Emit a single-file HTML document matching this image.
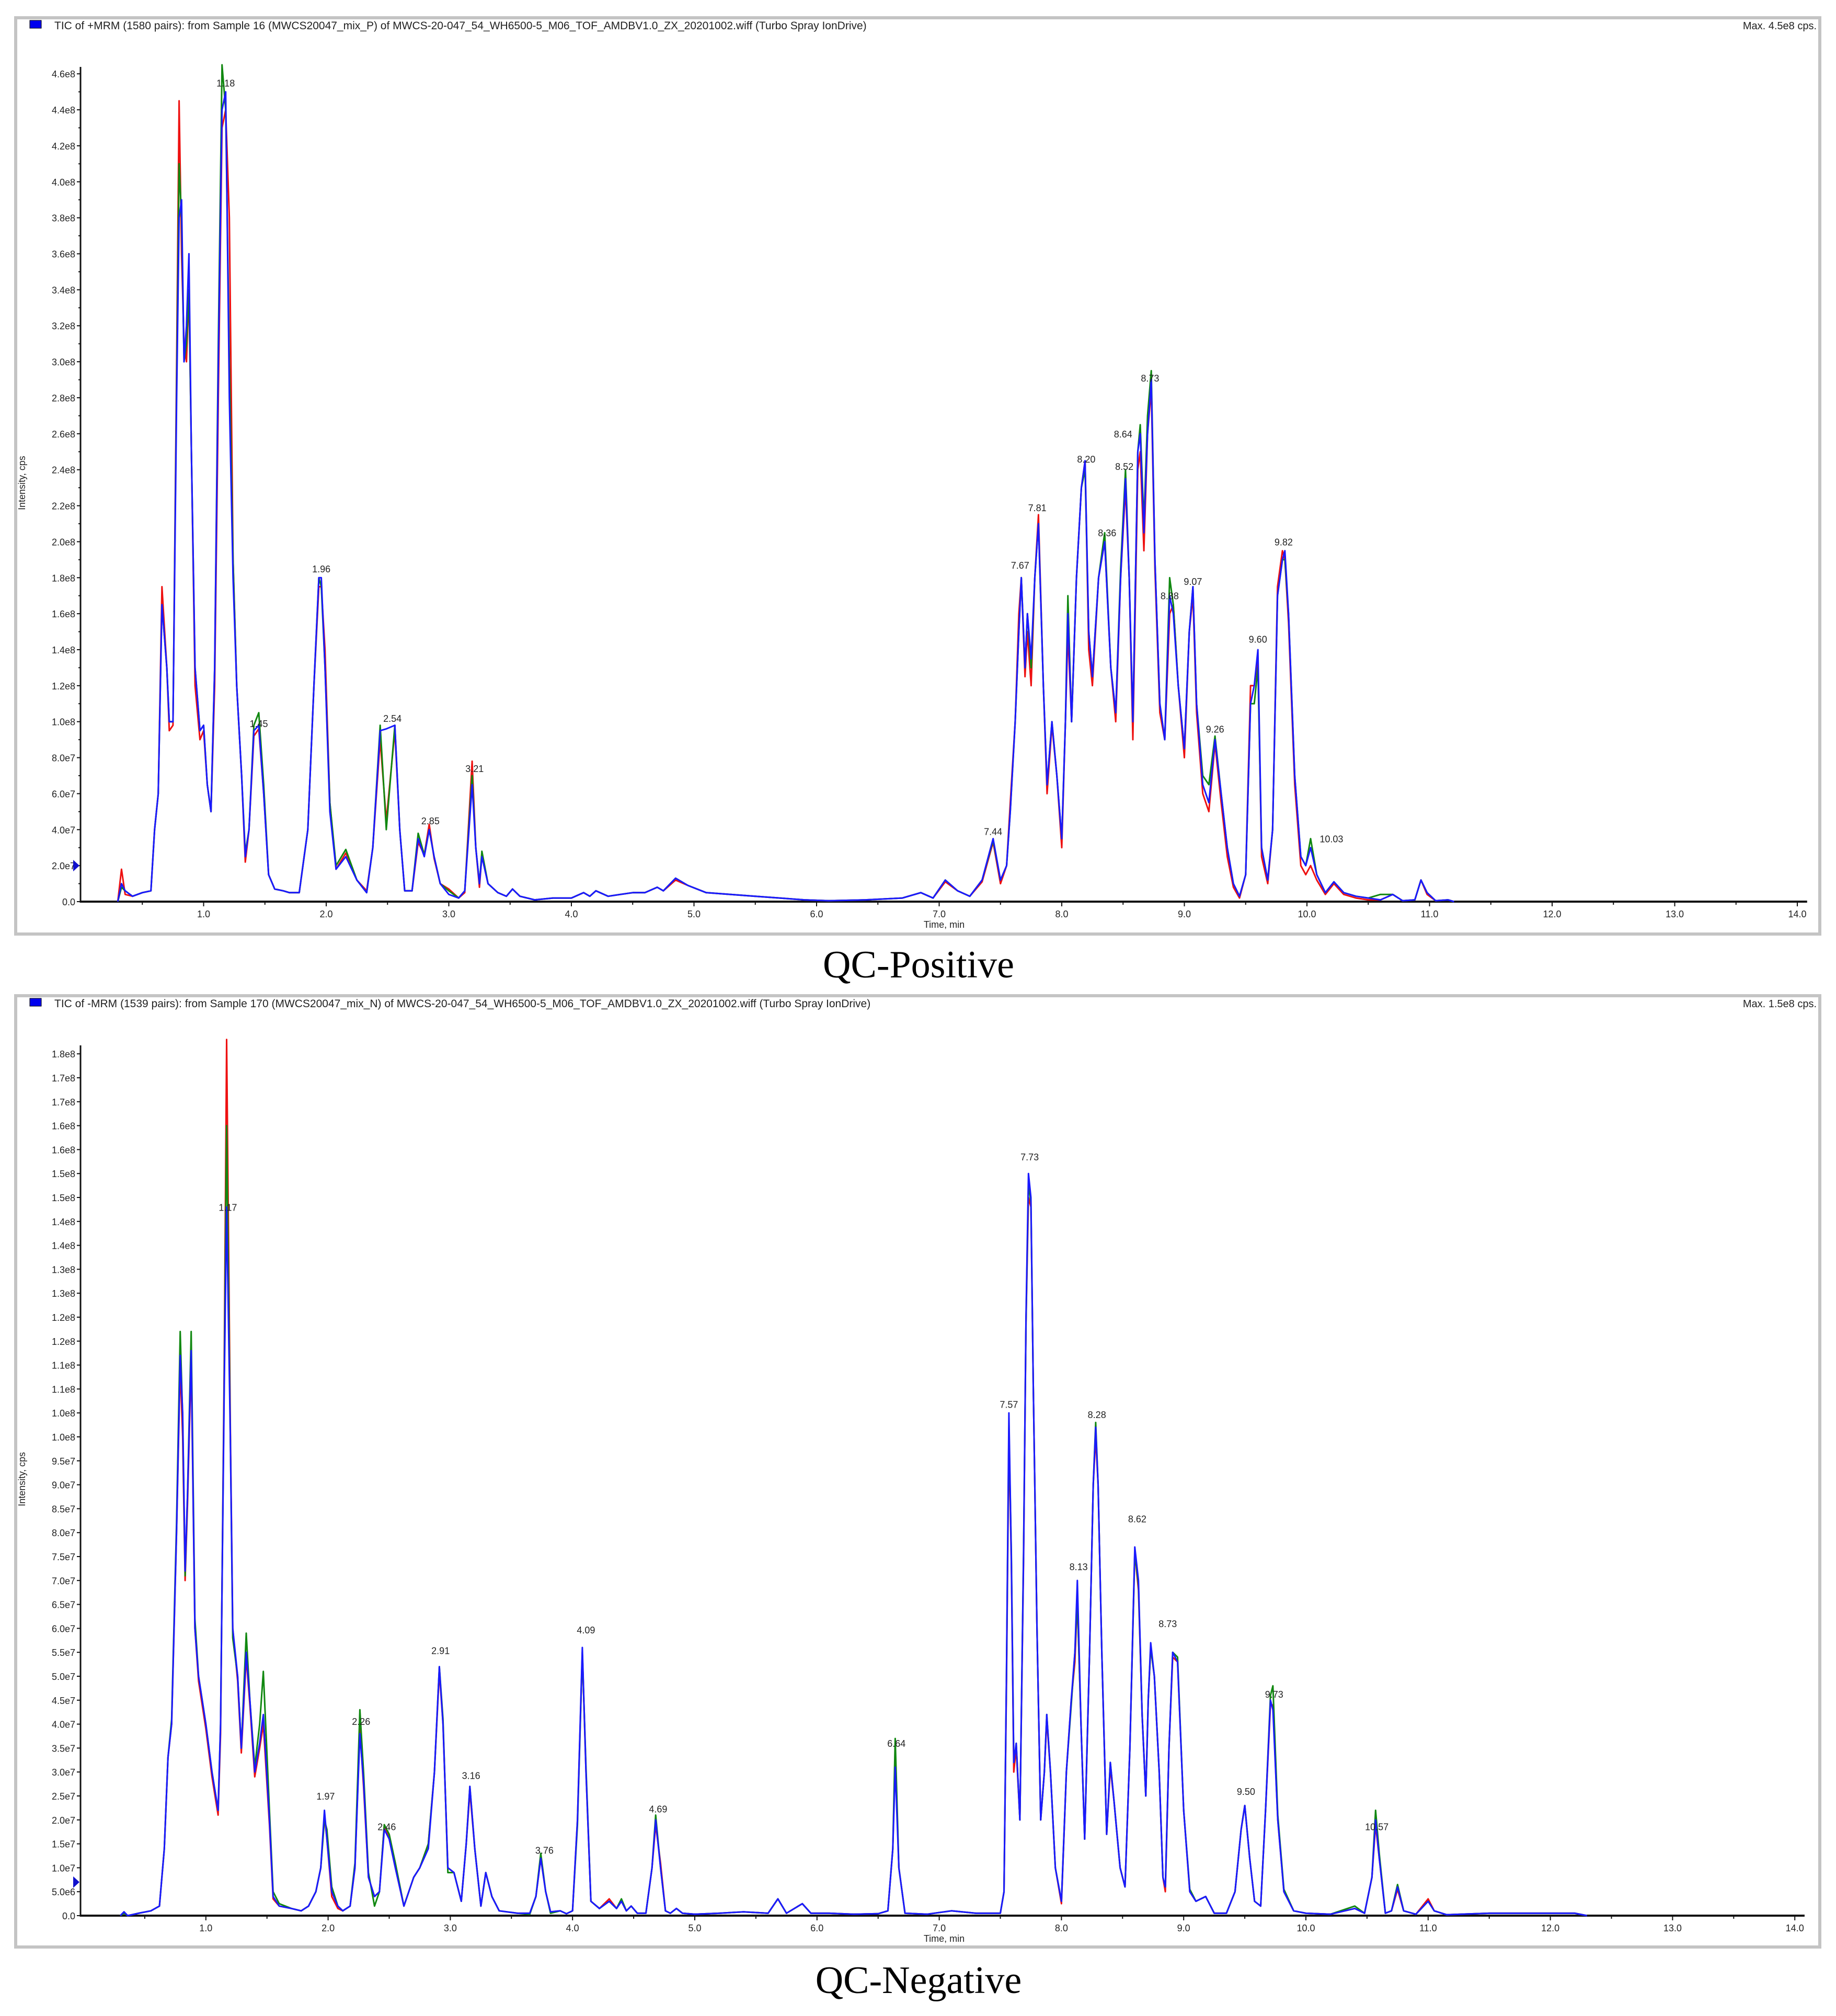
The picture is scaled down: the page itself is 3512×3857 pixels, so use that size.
<!DOCTYPE html>
<html><head><meta charset="utf-8"><title>QC TIC chromatograms</title>
<style>
html,body{margin:0;padding:0;background:#fff;}
svg{display:block;}
text{font-family:"Liberation Sans",Arial,sans-serif;fill:#222;}
.cap{font-family:"Liberation Serif",serif;fill:#000;}
</style></head>
<body>
<svg id="fig" xmlns="http://www.w3.org/2000/svg" width="3512" height="3857" viewBox="0 0 3512 3857">
<rect x="0" y="0" width="3512" height="3857" fill="#fff"/>
<g id="pos"></g>
<g id="neg"></g>
<text class="cap" x="1757" y="1870" font-size="74" text-anchor="middle">QC-Positive</text>
<text class="cap" x="1757" y="3813" font-size="74" text-anchor="middle">QC-Negative</text>
</svg>
<script>
// ===== QC-Positive data (intensity in units of 1e7 cps) =====
const posTimes = [0.30,0.33,0.36,0.42,0.50,0.57,0.60,0.63,0.66,0.70,0.72,0.75,0.78,0.80,0.82,0.84,0.86,0.88,0.90,0.93,0.97,1.00,1.03,1.06,1.09,1.12,1.15,1.18,1.21,1.24,1.27,1.31,1.34,1.37,1.41,1.45,1.49,1.53,1.58,1.65,1.70,1.78,1.85,1.90,1.94,1.96,1.99,2.03,2.08,2.16,2.25,2.33,2.38,2.44,2.49,2.56,2.60,2.64,2.70,2.75,2.80,2.84,2.88,2.93,3.00,3.08,3.13,3.19,3.22,3.25,3.27,3.32,3.40,3.47,3.52,3.58,3.70,3.85,4.00,4.10,4.15,4.20,4.30,4.40,4.50,4.60,4.70,4.75,4.85,4.95,5.10,5.30,5.50,5.70,5.90,6.10,6.40,6.70,6.85,6.95,7.05,7.15,7.25,7.35,7.44,7.50,7.55,7.58,7.62,7.65,7.67,7.70,7.72,7.75,7.78,7.81,7.85,7.88,7.92,7.96,8.00,8.03,8.05,8.08,8.12,8.16,8.19,8.22,8.25,8.30,8.35,8.40,8.44,8.48,8.52,8.55,8.58,8.62,8.64,8.67,8.70,8.73,8.76,8.80,8.84,8.88,8.91,8.95,9.00,9.04,9.07,9.10,9.15,9.20,9.25,9.30,9.35,9.40,9.45,9.50,9.54,9.57,9.60,9.63,9.68,9.72,9.76,9.80,9.82,9.85,9.90,9.95,9.99,10.03,10.08,10.15,10.22,10.30,10.40,10.50,10.60,10.70,10.78,10.88,10.93,10.98,11.05,11.15,11.20];
const posBlue = [0,1.0,0.6,0.3,0.5,0.6,4,6,16.5,13,10,10,28,38,39,30,32,36,25,13,9.5,9.8,6.5,5,13,30,44,45,28,18,12,7,2.5,4,9.5,9.8,6,1.5,0.7,0.6,0.5,0.5,4,12,18,18,13,5,1.8,2.5,1.2,0.5,3,9.5,9.6,9.8,4,0.6,0.6,3.5,2.5,4.0,2.5,1.0,0.4,0.2,0.6,6.5,3.0,1.0,2.5,1.0,0.5,0.3,0.7,0.3,0.1,0.2,0.2,0.5,0.3,0.6,0.3,0.4,0.5,0.5,0.8,0.6,1.3,0.9,0.5,0.4,0.3,0.2,0.1,0.05,0.1,0.2,0.5,0.2,1.2,0.6,0.3,1.2,3.5,1.2,2,5,10,15,18,13,16,13.5,18,21,12,6.5,10,7,3.5,10,16,10,18,23,24.5,15,12.5,18,20,13,10.5,18,23.5,18,10,25,26,20.5,26,29,19,11,9,17,16,12,8.5,15,17.5,11,6.5,5.5,9,6,3,1,0.3,1.5,11,12,14,3,1.2,4,17,19,19.5,16,7,2.5,2,3,1.5,0.5,1.1,0.5,0.3,0.2,0.1,0.4,0.05,0.1,1.2,0.5,0.05,0.1,0];
const posRed  = [0,1.8,0.4,0.3,0.5,0.6,4,6,17.5,13,9.5,9.8,30,44.5,36,31,30,34,25,12,9.0,9.5,6.5,5,12,28,43,44,38,19,12,7,2.2,4,9.2,9.6,6,1.5,0.7,0.6,0.5,0.5,4,12,17.5,17.5,14,5.5,1.8,2.7,1.2,0.6,3,9,4.5,9.5,4,0.6,0.6,3.3,2.6,4.3,2.4,1.0,0.7,0.2,0.5,7.8,3.0,0.8,2.6,1.0,0.5,0.3,0.7,0.3,0.1,0.2,0.2,0.5,0.3,0.6,0.3,0.4,0.5,0.5,0.8,0.6,1.2,0.9,0.5,0.4,0.3,0.2,0.1,0.05,0.1,0.2,0.5,0.2,1.1,0.6,0.3,1.1,3.3,1.0,2,5.5,10,16,18,12.5,15,12,18,21.5,12,6,9.8,7,3,10,15,10,18,23,24.5,14,12,18,20,13,10,18,23,18,9,24,25,19.5,26,28.5,18.5,10.5,9,16,16.5,12,8,15,17,10.5,6,5,8.8,5.5,2.5,0.8,0.2,1.5,12,12,13.5,2.5,1,4,17.5,19.5,19,15.5,6.5,2,1.5,2,1.2,0.4,1.0,0.4,0.2,0.1,0.1,0.4,0.05,0.1,1.2,0.4,0.05,0.1,0];
const posGreen= [0,0.8,0.6,0.3,0.5,0.6,4,6,16.5,13,10,10,29,41,38,30,31,34,25,13,9.5,9.8,6.5,5,13,31,46.5,44,30,19,12,7,2.7,4,9.8,10.5,6.5,1.5,0.7,0.6,0.5,0.5,4,12,18,17.5,13,5.5,2.0,2.9,1.2,0.5,3,9.8,4,9.8,4,0.6,0.6,3.8,2.6,4.0,2.5,1.0,0.6,0.2,0.6,7.0,3.0,1.0,2.8,1.0,0.5,0.3,0.7,0.3,0.1,0.2,0.2,0.5,0.3,0.6,0.3,0.4,0.5,0.5,0.8,0.6,1.3,0.9,0.5,0.4,0.3,0.2,0.1,0.05,0.1,0.2,0.5,0.2,1.2,0.6,0.3,1.2,3.4,1.2,2,5,10,15,18,13,16,13,18,21,12,6.5,10,7,3.5,10,17,10,18,23,24,15,12.5,18,20.5,13,10.5,18.5,24,18,10,25,26.5,21,27,29.5,19,11,9,18,16.5,12,8.5,15,17.5,11,7,6.5,9.2,6,3,1,0.3,1.5,11,11,13,3,1.2,4,17,19,19,16,7,2.5,2,3.5,1.5,0.5,1.1,0.5,0.3,0.2,0.4,0.4,0.05,0.1,1.2,0.5,0.05,0.1,0];
const posLabels = ["1.18","1.96","1.45","2.54","3.21","2.85","7.44","7.67","7.81","8.20","8.36","8.52","8.64","8.73","8.88","9.07","9.26","9.60","9.82","10.03"];
const posLabelT = [1.18,1.96,1.45,2.54,3.21,2.85,7.44,7.66,7.80,8.20,8.37,8.51,8.50,8.72,8.88,9.07,9.25,9.60,9.81,10.20];
const posLabelV = [45.5,18.5,9.9,10.2,7.4,4.5,3.9,18.7,21.9,24.6,20.5,24.2,26,29.1,17,17.8,9.6,14.6,20,3.5];
const posYTicks = [0,2,4,6,8,10,12,14,16,18,20,22,24,26,28,30,32,34,36,38,40,42,44,46];
const posYTickLabels = ["0.0","2.0e7","4.0e7","6.0e7","8.0e7","1.0e8","1.2e8","1.4e8","1.6e8","1.8e8","2.0e8","2.2e8","2.4e8","2.6e8","2.8e8","3.0e8","3.2e8","3.4e8","3.6e8","3.8e8","4.0e8","4.2e8","4.4e8","4.6e8"];

// ===== QC-Negative data (intensity in units of 1e6 cps) =====
const negTimes = [0.30,0.33,0.36,0.45,0.55,0.62,0.66,0.69,0.72,0.76,0.79,0.81,0.83,0.85,0.88,0.91,0.94,1.00,1.05,1.10,1.12,1.15,1.17,1.20,1.22,1.26,1.29,1.33,1.36,1.40,1.44,1.47,1.52,1.55,1.60,1.70,1.78,1.84,1.90,1.94,1.97,1.99,2.03,2.08,2.12,2.18,2.22,2.26,2.29,2.33,2.38,2.42,2.46,2.50,2.55,2.62,2.70,2.75,2.82,2.87,2.91,2.94,2.98,3.03,3.09,3.13,3.16,3.20,3.25,3.29,3.34,3.40,3.55,3.65,3.70,3.74,3.78,3.82,3.90,3.95,4.00,4.04,4.08,4.11,4.15,4.22,4.30,4.36,4.40,4.44,4.48,4.53,4.60,4.65,4.68,4.72,4.76,4.80,4.85,4.90,5.00,5.20,5.40,5.60,5.68,5.75,5.88,5.95,6.10,6.30,6.50,6.58,6.62,6.64,6.67,6.72,6.90,7.10,7.30,7.50,7.53,7.55,7.57,7.59,7.61,7.63,7.66,7.69,7.71,7.73,7.75,7.77,7.80,7.83,7.86,7.88,7.91,7.95,8.00,8.04,8.08,8.11,8.13,8.16,8.19,8.23,8.26,8.28,8.30,8.33,8.37,8.40,8.43,8.48,8.52,8.56,8.60,8.63,8.66,8.69,8.71,8.73,8.76,8.80,8.83,8.85,8.88,8.91,8.95,9.00,9.05,9.10,9.18,9.25,9.35,9.42,9.47,9.50,9.54,9.58,9.63,9.67,9.71,9.73,9.77,9.82,9.90,10.00,10.20,10.40,10.48,10.54,10.57,10.60,10.65,10.70,10.75,10.80,10.90,11.00,11.05,11.15,11.50,12.20,12.30];
const negBlue = [0,0.8,0,0.5,1,2,14,33,40,80,117,105,72,88,118,60,50,40,30,22,40,110,148,100,60,50,35,55,45,30,36,42,20,4,2,1.5,1.0,2,5,10,22,16,5,2,1,2,10,38,28,8,4,5,18,16,10,2,8,10,14,30,52,40,10,9,3,15,27,14,2,9,4,1,0.5,0.5,4,12,5,0.8,1,0.4,1,20,56,30,3,1.5,3,1.5,3,1,2,0.5,0.5,10,20,10,1,0.5,1.5,0.5,0.3,0.5,0.8,0.5,3.5,0.5,2.5,0.5,0.5,0.3,0.4,1,14,31,10,0.5,0.3,1,0.5,0.5,5,50,105,75,32,36,20,75,125,155,150,110,60,20,30,42,30,10,3,30,45,55,70,40,16,55,90,102,90,55,17,32,24,10,6,35,77,70,42,25,45,57,50,30,8,6,35,55,53,22,5,3,4,0.5,0.5,5,18,23,12,3,2,22,45,43,20,5,1,0.5,0.3,1.5,0.5,8,20,12,0.5,1,6,1,0.3,3,1,0.2,0.5,0.5,0];
const negRed  = [0,0.6,0,0.5,1,2,14,33,40,80,115,100,70,86,116,60,49,39,29,21,38,115,183,102,60,49,34,54,44,29,35,40,19,3.5,2,1.5,1.0,2,5,10,21,16,4,1.5,1,2,10,39,27,8,4,5,19,16,10,2,8,10,15,30,51,40,10,9,3,15,26,14,2,9,4,1,0.5,0.5,4,12,5,0.8,1,0.4,1,20,55,30,3,1.5,3.5,1.5,3,1,2,0.5,0.5,10,19,11,1,0.5,1.5,0.5,0.3,0.5,0.8,0.5,3.5,0.5,2.5,0.5,0.5,0.3,0.4,1,14,34,10,0.5,0.3,1,0.5,0.5,5,48,100,74,30,35,20,74,124,150,148,110,60,20,30,41,30,10,2.5,30,45,53,66,40,16,55,90,100,90,55,17,31,24,10,6,35,76,68,42,25,45,56,50,30,8,5,35,54,53,22,5,3,4,0.5,0.5,5,18,23,12,3,2,22,44,44,20,5,1,0.5,0.3,1.5,0.5,8,19,12,0.5,1,5.5,1,0.3,3.5,1,0.2,0.5,0.5,0];
const negGreen= [0,0.5,0,0.5,1,2,14,33,41,82,122,104,71,88,122,62,50,40,30,22,40,112,165,100,58,50,35,59,45,31,40,51,22,5,2.5,1.5,1.0,2,5,10,20,18,6,2,1,2,11,43,30,9,2,5,19,17,11,2,8,10,15,30,52,41,9,9,3,15,27,14,2,9,4,1,0.5,0.3,4,13,5,0.5,1,0.4,1,19,55,31,3,1.5,3,1.5,3.5,1,2,0.5,0.5,10,21,10,1,0.5,1.5,0.5,0.3,0.5,0.8,0.5,3.5,0.5,2.5,0.5,0.5,0.3,0.4,1,14,37,10,0.5,0.3,1,0.5,0.5,5,50,102,76,32,36,20,76,124,153,149,110,60,20,30,42,30,10,3,30,44,55,66,40,16,55,90,103,90,55,17,32,24,10,6,35,76,69,42,25,45,56,50,30,8,6,35,55,54,22,5.5,3,4,0.5,0.5,5,18,23,12,3,2,22,46,48,21,5.5,1,0.5,0.3,2,0.5,8,22,13,0.5,1,6.5,1,0.3,3,1,0.2,0.5,0.5,0];
const negLabels = ["1.17","1.97","2.26","2.46","2.91","3.16","3.76","4.09","4.69","6.64","7.57","7.73","8.13","8.28","8.62","8.73","9.50","9.73","10.57"];
const negLabelT = [1.18,1.98,2.27,2.48,2.92,3.17,3.77,4.11,4.70,6.65,7.57,7.74,8.14,8.29,8.62,8.87,9.51,9.74,10.58];
const negLabelV = [148,25,40.6,18.6,55.4,29.3,13.7,59.7,22.3,36,106.8,158.5,72.9,104.7,82.9,61,26,46.3,18.6];
const negYTicks = [0,5,10,15,20,25,30,35,40,45,50,55,60,65,70,75,80,85,90,95,100,105,110,115,120,125,130,135,140,145,150,155,160,165,170,175,180];
const negYTickLabels = ["0.0","5.0e6","1.0e7","1.5e7","2.0e7","2.5e7","3.0e7","3.5e7","4.0e7","4.5e7","5.0e7","5.5e7","6.0e7","6.5e7","7.0e7","7.5e7","8.0e7","8.5e7","9.0e7","9.5e7","1.0e8","1.0e8","1.1e8","1.1e8","1.2e8","1.2e8","1.3e8","1.3e8","1.4e8","1.4e8","1.5e8","1.5e8","1.6e8","1.6e8","1.7e8","1.7e8","1.8e8"];

const xTicks = [1,2,3,4,5,6,7,8,9,10,11,12,13,14];
const xTickLabels = ["1.0","2.0","3.0","4.0","5.0","6.0","7.0","8.0","9.0","10.0","11.0","12.0","13.0","14.0"];

const NS = "http://www.w3.org/2000/svg";
function mk(parent, tag, attrs, txt){
  const e = document.createElementNS(NS, tag);
  for (const k in attrs) e.setAttribute(k, attrs[k]);
  if (txt !== undefined) e.textContent = txt;
  parent.appendChild(e);
  return e;
}

function drawPanel(g, cfg){
  const fr = mk(g, 'rect', {x:cfg.fx, y:cfg.fy, width:cfg.fw, height:cfg.fh, fill:'#fff', stroke:'#c4c4c4', 'stroke-width':6});
  
  
  const sq = mk(g, 'rect', {x:cfg.fx+27, y:cfg.fy+5, width:22, height:15, fill:'#0000ee', stroke:'#000', 'stroke-width':1});
  
  
  const tt = mk(g, 'text', {x:cfg.fx+74, y:cfg.fy+22, 'font-size':21}, cfg.title);
  
  
  const mx = mk(g, 'text', {x:cfg.fx+cfg.fw-6, y:cfg.fy+22, 'font-size':20, 'text-anchor':'end'}, cfg.maxText);
  
  

  const X = t => cfg.x0 + t*cfg.pxPerMin;
  const Y = v => cfg.y0 - v*cfg.pxPerUnit;

  const ya = mk(g, 'line', {x1:cfg.ax, y1:cfg.yTop, x2:cfg.ax, y2:cfg.y0+2, stroke:'#111', 'stroke-width':3});
  
  
  const xa = mk(g, 'line', {x1:cfg.ax, y1:cfg.y0, x2:X(14.08), y2:cfg.y0, stroke:'#111', 'stroke-width':4});
  
  

  cfg.yTicks.forEach((v,i)=>{
    const tk = mk(g, 'line', {x1:cfg.ax-7, y1:Y(v), x2:cfg.ax, y2:Y(v), stroke:'#111', 'stroke-width':2});
    
    
    const lb = mk(g, 'text', {x:cfg.ax-10, y:Y(v)+7, 'font-size':18, 'text-anchor':'end'}, cfg.yLabels[i]);
    
    
    if (cfg.minorY && i < cfg.yTicks.length-1){
      const mv = (v + cfg.yTicks[i+1])/2;
      const mt = mk(g, 'line', {x1:cfg.ax-4, y1:Y(mv), x2:cfg.ax, y2:Y(mv), stroke:'#111', 'stroke-width':2});
      
      
    }
  });
  xTicks.forEach((t,i)=>{
    const tk = mk(g, 'line', {x1:X(t), y1:cfg.y0, x2:X(t), y2:cfg.y0+9, stroke:'#111', 'stroke-width':2});
    
    
    const mt = mk(g, 'line', {x1:X(t-0.5), y1:cfg.y0, x2:X(t-0.5), y2:cfg.y0+6, stroke:'#111', 'stroke-width':2});
    
    
    const lb = mk(g, 'text', {x:X(t), y:cfg.y0+30, 'font-size':18, 'text-anchor':'middle'}, xTickLabels[i]);
    
    
  });
  const xt = mk(g, 'text', {x:1806, y:cfg.y0+50, 'font-size':18, 'text-anchor':'middle'}, 'Time, min');
  
  
  const yt = mk(g, 'text', {x:0, y:0, 'font-size':18, 'text-anchor':'middle', transform:`translate(48,${cfg.yTitleY}) rotate(-90)`}, 'Intensity, cps');
  
  
  const mk2 = mk(g, 'path', {d:`M${cfg.ax-14},${Y(cfg.markerV)-11} L${cfg.ax-2},${Y(cfg.markerV)} L${cfg.ax-14},${Y(cfg.markerV)+11} Z`, fill:'#1010cc'});
  
  

  const series = [['red',cfg.red,'#ee1111'],['green',cfg.green,'#118811'],['blue',cfg.blue,'#1a1aff']];
  series.forEach(s=>{
    let d = '';
    cfg.times.forEach((t,i)=>{ d += (i?'L':'M') + X(t).toFixed(1) + ',' + Y(s[1][i]).toFixed(1); });
    const p = mk(g, 'path', {d:d, fill:'none', stroke:s[2], 'stroke-width':3, 'stroke-linejoin':'round'});
    
    
  });

  cfg.labels.forEach((s,i)=>{
    const lb = mk(g, 'text', {x:X(cfg.labelT[i]), y:Y(cfg.labelV[i])+7, 'font-size':18, 'text-anchor':'middle'}, s);
    
    
  });
}

drawPanel(document.getElementById('pos'), {
  fx:30, fy:34, fw:3451, fh:1753,
  title:'TIC of +MRM (1580 pairs): from Sample 16 (MWCS20047_mix_P) of MWCS-20-047_54_WH6500-5_M06_TOF_AMDBV1.0_ZX_20201002.wiff (Turbo Spray IonDrive)',
  maxText:'Max. 4.5e8 cps.',
  x0:155, pxPerMin:234.5, ax:154, y0:1725, pxPerUnit:34.43, yTop:128,
  yTicks:posYTicks, yLabels:posYTickLabels, minorY:true, yTitleY:924, markerV:2,
  times:posTimes, blue:posBlue, red:posRed, green:posGreen,
  labels:posLabels, labelT:posLabelT, labelV:posLabelV
});
drawPanel(document.getElementById('neg'), {
  fx:30, fy:1905, fw:3451, fh:1820,
  title:'TIC of -MRM (1539 pairs): from Sample 170 (MWCS20047_mix_N) of MWCS-20-047_54_WH6500-5_M06_TOF_AMDBV1.0_ZX_20201002.wiff (Turbo Spray IonDrive)',
  maxText:'Max. 1.5e8 cps.',
  x0:160, pxPerMin:233.8, ax:154, y0:3665, pxPerUnit:9.16, yTop:2000,
  yTicks:negYTicks, yLabels:negYTickLabels, minorY:false, yTitleY:2830, markerV:7,
  times:negTimes, blue:negBlue, red:negRed, green:negGreen,
  labels:negLabels, labelT:negLabelT, labelV:negLabelV
});
</script>
</body></html>
